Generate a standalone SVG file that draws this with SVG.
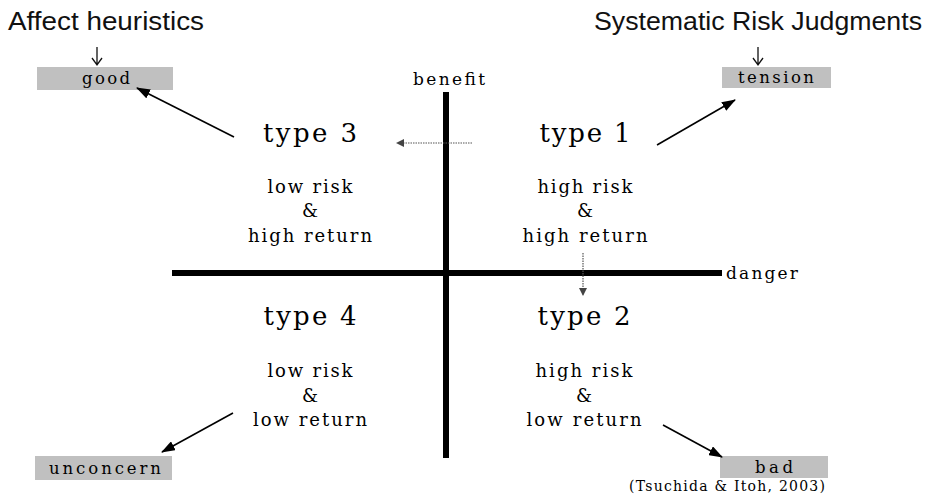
<svg xmlns="http://www.w3.org/2000/svg" width="928" height="504" viewBox="0 0 928 504">
<defs>
<style>
.sr{font-family:"DejaVu Serif","Liberation Serif",serif;fill:#000;text-anchor:middle}
.t{font-size:26px}
.d{font-size:18px}
.ax{font-size:17px}
.lb{font-size:16.5px}
.hd{font-family:"Liberation Sans",Arial,sans-serif;font-size:26px;fill:#111}
.box{fill:#c0c0c0}
.arr{stroke:#000;stroke-width:1.6;fill:none}
.dot{stroke:#555;stroke-width:1.2;stroke-dasharray:1.5 1;fill:none}
.axis{stroke:#000;stroke-width:6;fill:none}
</style>
<marker id="ah" viewBox="0 0 14 10" refX="13" refY="5" markerWidth="14" markerHeight="10" markerUnits="userSpaceOnUse" orient="auto"><path d="M0,0 L14,5 L0,10 z" fill="#000"/></marker>
<marker id="ahs" viewBox="0 0 8 8" refX="7" refY="4" markerWidth="8" markerHeight="8" markerUnits="userSpaceOnUse" orient="auto"><path d="M0,0 L8,4 L0,8 z" fill="#444"/></marker>
</defs>
<rect width="928" height="504" fill="#fff"/>

<g id="axes">
<line class="axis" x1="446" y1="92" x2="446" y2="458"/>
<line class="axis" x1="172" y1="273" x2="722" y2="273"/>
<text class="sr ax" x="449" y="85" textLength="72" lengthAdjust="spacing">benefit</text>
<text class="sr ax" x="762" y="279" textLength="72" lengthAdjust="spacing">danger</text>
</g>

<g id="header-affect">
<text class="hd" x="8" y="30" textLength="196" lengthAdjust="spacingAndGlyphs">Affect heuristics</text>
<path d="M97,47 V65 M92,58 L97,65 L102,58" stroke="#111" stroke-width="1.3" fill="none"/>
</g>
<g id="header-systematic">
<text class="hd" x="594" y="30" textLength="328" lengthAdjust="spacingAndGlyphs">Systematic Risk Judgments</text>
<path d="M758,47 V65 M753,58 L758,65 L763,58" stroke="#111" stroke-width="1.3" fill="none"/>
</g>

<g id="good">
<rect class="box" x="37" y="67" width="136" height="23"/>
<text class="sr lb" x="106" y="84" textLength="48" lengthAdjust="spacing">good</text>
</g>
<g id="tension">
<rect class="box" x="722" y="67" width="109" height="21"/>
<text class="sr lb" x="776" y="83" textLength="76" lengthAdjust="spacing">tension</text>
</g>
<g id="unconcern">
<rect class="box" x="35" y="456" width="137" height="24"/>
<text class="sr lb" x="105" y="474" textLength="112" lengthAdjust="spacing">unconcern</text>
</g>
<g id="bad">
<rect class="box" x="720" y="456" width="108" height="22"/>
<text class="sr lb" x="774" y="473" textLength="38" lengthAdjust="spacing">bad</text>
</g>

<g id="type3">
<text class="sr t" x="310" y="142" textLength="94" lengthAdjust="spacing">type 3</text>
<text class="sr d" x="310" y="193" textLength="85" lengthAdjust="spacing">low risk</text>
<text class="sr d" x="310" y="217">&amp;</text>
<text class="sr d" x="310" y="242" textLength="124" lengthAdjust="spacing">high return</text>
</g>
<g id="type1">
<text class="sr t" x="585" y="142" textLength="91" lengthAdjust="spacing">type 1</text>
<text class="sr d" x="585" y="193" textLength="95" lengthAdjust="spacing">high risk</text>
<text class="sr d" x="585" y="217">&amp;</text>
<text class="sr d" x="585" y="242" textLength="125" lengthAdjust="spacing">high return</text>
</g>
<g id="type4">
<text class="sr t" x="310" y="325" textLength="93" lengthAdjust="spacing">type 4</text>
<text class="sr d" x="310" y="377" textLength="85" lengthAdjust="spacing">low risk</text>
<text class="sr d" x="310" y="402">&amp;</text>
<text class="sr d" x="310" y="426" textLength="114" lengthAdjust="spacing">low return</text>
</g>
<g id="type2">
<text class="sr t" x="584" y="325" textLength="93" lengthAdjust="spacing">type 2</text>
<text class="sr d" x="584" y="377" textLength="97" lengthAdjust="spacing">high risk</text>
<text class="sr d" x="584" y="402">&amp;</text>
<text class="sr d" x="584" y="426" textLength="115" lengthAdjust="spacing">low return</text>
</g>

<g id="citation">
<text class="sr" style="font-size:14px" x="727" y="491" textLength="196" lengthAdjust="spacing">(Tsuchida &amp; Itoh, 2003)</text>
</g>

<g id="connectors">
<line class="arr" x1="234" y1="137" x2="137" y2="88" marker-end="url(#ah)"/>
<line class="arr" x1="657" y1="145" x2="735" y2="100" marker-end="url(#ah)"/>
<line class="arr" x1="233" y1="413" x2="162" y2="452" marker-end="url(#ah)"/>
<line class="arr" x1="663" y1="425" x2="722" y2="457" marker-end="url(#ah)"/>
<line class="dot" x1="472" y1="143" x2="397" y2="143" marker-end="url(#ahs)"/>
<line class="dot" x1="583" y1="253" x2="583" y2="295" marker-end="url(#ahs)"/>
</g>
</svg>
